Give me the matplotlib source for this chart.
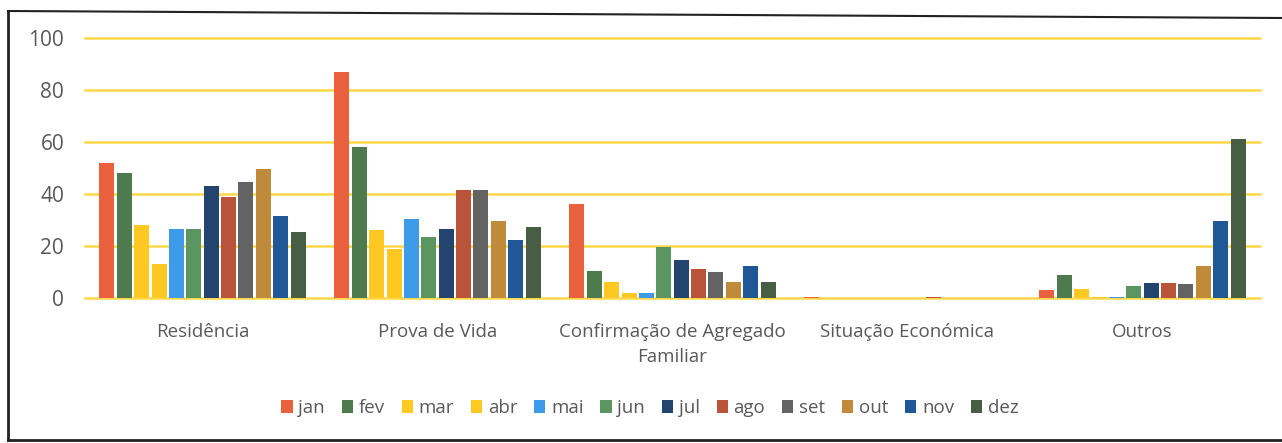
import matplotlib.pyplot as plt
import numpy as np

plt.rcParams['font.family'] = ['Open Sans', 'DejaVu Sans']

# categories and monthly values
categorias = ['Residência', 'Prova de Vida', 'Confirmação de Agregado\nFamiliar',
              'Situação Económica', 'Outros']
meses = ['jan', 'fev', 'mar', 'abr', 'mai', 'jun', 'jul', 'ago', 'set', 'out', 'nov', 'dez']

jan = [52, 87, 36, 0.5, 3]
fev = [48, 58, 10.5, 0, 9]
mar = [28, 26, 6, 0, 3.5]
abr = [13, 19, 2, 0, 0.4]
mai = [26.7, 30.5, 2, 0, 0.4]
jun = [26.7, 23.3, 19.5, 0, 4.5]
jul = [43, 26.4, 14.5, 0, 5.7]
ago = [39, 41.4, 11, 0.5, 5.7]
sett = [44.5, 41.4, 10, 0, 5.2]
out = [49.5, 29.5, 6.3, 0, 12.3]
nov = [31.5, 22.3, 12.5, 0, 29.5]
dez = [25.5, 27.3, 6, 0, 61]

series = [jan, fev, mar, abr, mai, jun, jul, ago, sett, out, nov, dez]
cores = ['#E9623D', '#4E7B4E', '#FFC822', '#FFC822', '#3D9BEA', '#5B9562',
         '#22446F', '#B9533A', '#636363', '#BF8B3B', '#1F5797', '#485E44']

fig = plt.figure(figsize=(12.82, 4.43), dpi=100)
ax = fig.add_axes([85 / 1282, 1 - 298 / 443, 1175 / 1282, 260 / 443])

x = np.arange(len(categorias))
slot = 0.074
larg = 0.064
for i, (vals, c) in enumerate(zip(series, cores)):
    ax.bar(x + (i - 5.5) * slot, vals, larg, color=c, label=meses[i], zorder=3)

ax.set_xlim(-0.5, len(categorias) - 0.5)
ax.set_ylim(0, 100)
ax.set_yticks(range(0, 101, 20))
ax.yaxis.grid(True, color='#FFD84A', linewidth=1.8, zorder=0, clip_on=False)
for s in ax.spines.values():
    s.set_visible(False)
ax.tick_params(length=0, labelcolor='#595959')
ax.tick_params(axis='y', pad=15, labelsize=15)
ax.tick_params(axis='x', pad=18, labelsize=13.5)
ax.set_xticks(x)
ax.set_xticklabels(categorias, linespacing=1.5)

leg = fig.legend(loc='center', bbox_to_anchor=(650 / 1282, 1 - 408 / 443), ncol=12,
                 frameon=False, fontsize=13.5, handlelength=0.6, handleheight=0.7,
                 handletextpad=0.3, columnspacing=0.9)
for t in leg.get_texts():
    t.set_color('#595959')

# moldura do grafico
fig.add_artist(plt.Line2D([8 / 1282, 8 / 1282], [1 - 440 / 443, 1 - 11 / 443], color='#222222', lw=2))
fig.add_artist(plt.Line2D([8 / 1282, 1], [1 - 11 / 443, 1 - 18 / 443], color='#222222', lw=1.5))
fig.add_artist(plt.Line2D([8 / 1282, 1], [1 - 440 / 443, 1 - 440 / 443], color='#222222', lw=2))

fig.savefig('out.png', dpi=100)
